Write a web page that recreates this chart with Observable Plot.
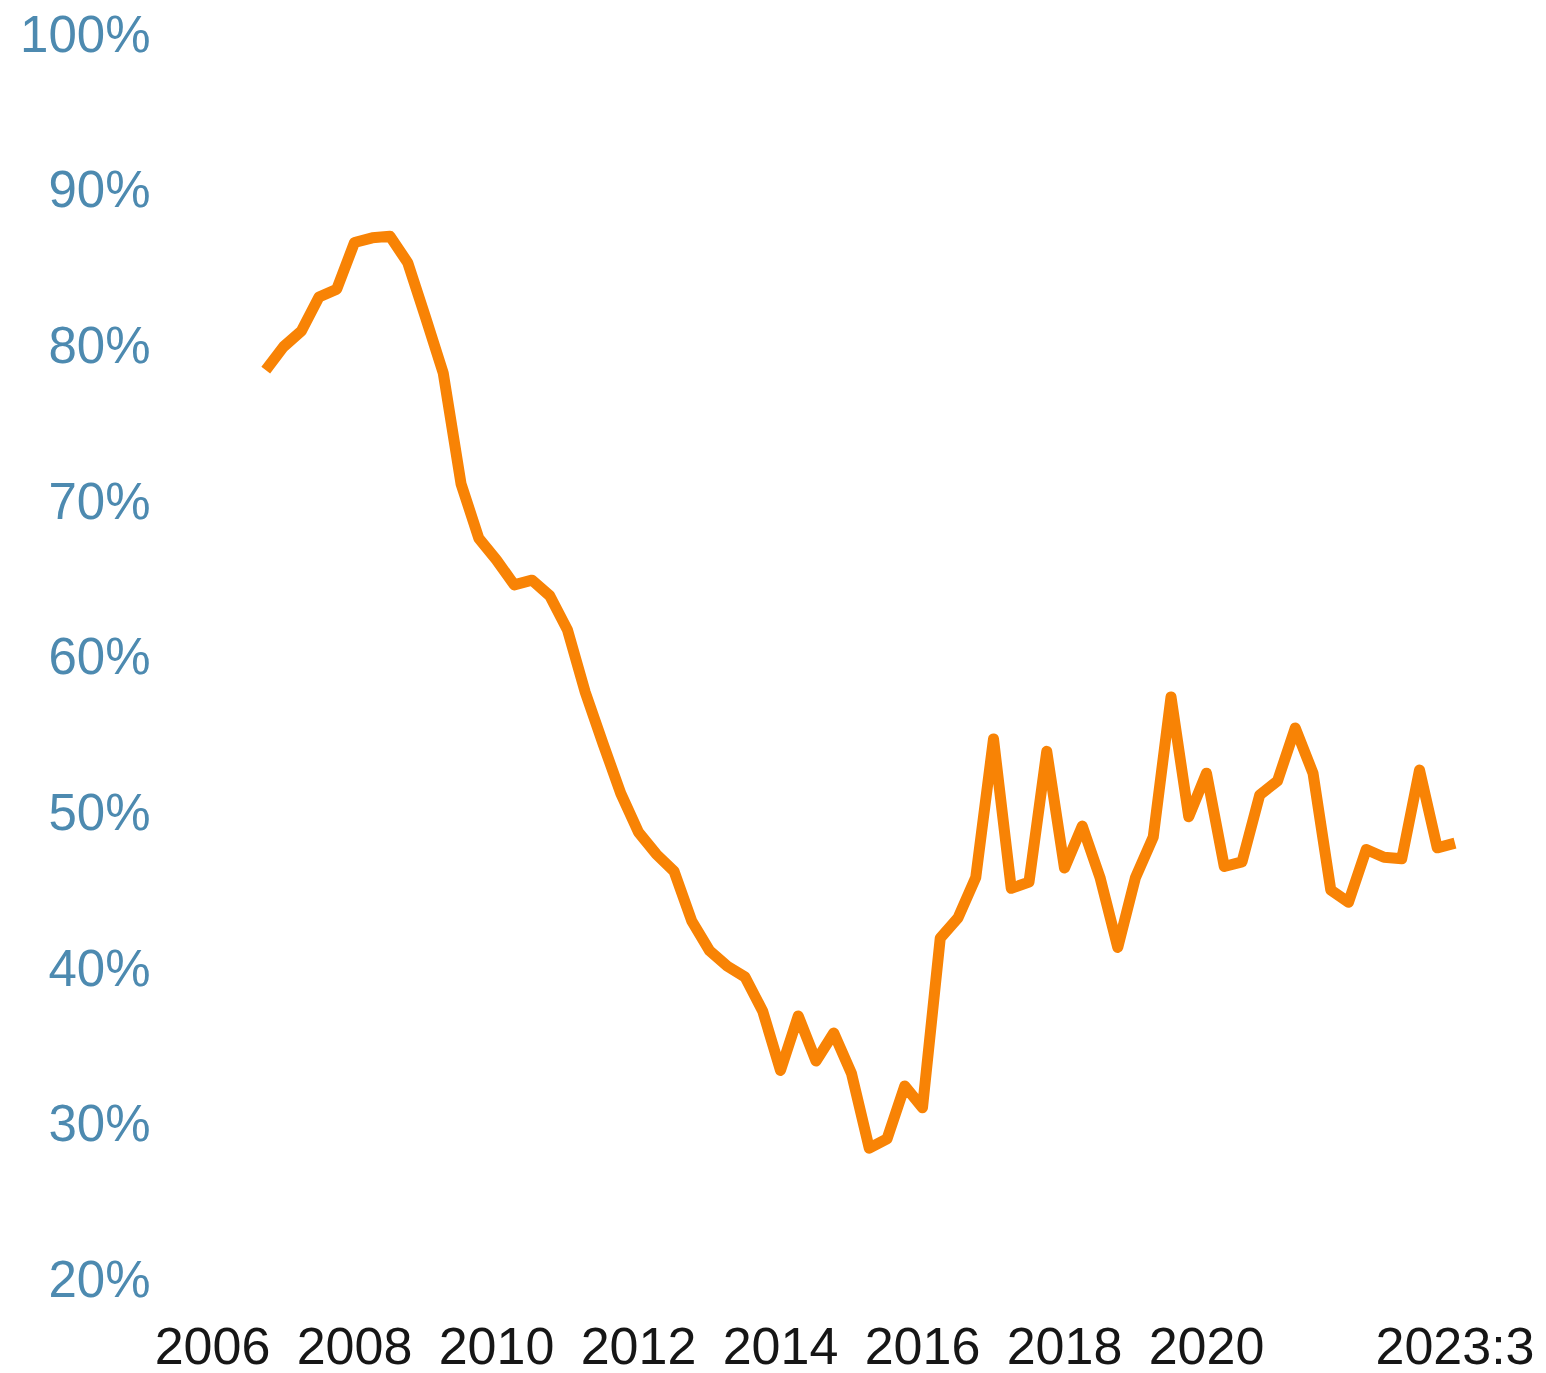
<!DOCTYPE html>
<html>
<head>
<meta charset="utf-8">
<script src="https://cdn.jsdelivr.net/npm/d3@7"></script>
<script src="https://cdn.jsdelivr.net/npm/@observablehq/plot@0.6"></script>
<style>
  html, body { margin: 0; padding: 0; background: #ffffff; }
  #chart { width: 1546px; height: 1373px; }
</style>
</head>
<body>
<div id="chart"></div>
<script>
// Quarterly periods (year:quarter)
const periods = [
  "2006:4",
  "2007:1","2007:2","2007:3","2007:4",
  "2008:1","2008:2","2008:3","2008:4",
  "2009:1","2009:2","2009:3","2009:4",
  "2010:1","2010:2","2010:3","2010:4",
  "2011:1","2011:2","2011:3","2011:4",
  "2012:1","2012:2","2012:3","2012:4",
  "2013:1","2013:2","2013:3","2013:4",
  "2014:1","2014:2","2014:3","2014:4",
  "2015:1","2015:2","2015:3","2015:4",
  "2016:1","2016:2","2016:3","2016:4",
  "2017:1","2017:2","2017:3","2017:4",
  "2018:1","2018:2","2018:3","2018:4",
  "2019:1","2019:2","2019:3","2019:4",
  "2020:1","2020:2","2020:3","2020:4",
  "2021:1","2021:2","2021:3","2021:4",
  "2022:1","2022:2","2022:3","2022:4",
  "2023:1","2023:2","2023:3"
];

// Series values (%)
const values = [
  78.5,
  80.0, 81.0, 83.2, 83.7,
  86.7, 87.0, 87.1, 85.4,
  81.9, 78.3, 71.2, 67.7,
  66.3, 64.7, 65.0, 64.0,
  61.8, 57.8, 54.5, 51.3,
  48.8, 47.4, 46.3, 43.1,
  41.2, 40.2, 39.5, 37.3,
  33.5, 37.0, 34.1, 35.9,
  33.3, 28.5, 29.1, 32.5,
  31.1, 42.0, 43.3, 45.9,
  54.8, 45.2, 45.6, 54.0,
  46.5, 49.2, 45.9, 41.4,
  45.9, 48.5, 57.5, 49.8,
  52.6, 46.6, 46.9, 51.2,
  52.1, 55.5, 52.6, 45.1,
  44.3, 47.7, 47.2, 47.1,
  52.8, 47.8, 48.1
];

// Tick values and labels
const xTickValues = [2006, 2008, 2010, 2012, 2014, 2016, 2018, 2020, 2023.5];
const xTickLabels = ["2006", "2008", "2010", "2012", "2014", "2016", "2018", "2020", "2023:3"];
const yTickValues = [20, 30, 40, 50, 60, 70, 80, 90, 100];
const yTickLabels = ["20%", "30%", "40%", "50%", "60%", "70%", "80%", "90%", "100%"];

// Build table
const toDecimal = (p) => {
  const [y, q] = p.split(":").map(Number);
  return y + (q - 1) / 4;
};
const data = periods.map((p, i) => ({ t: toDecimal(p), v: values[i] }));
const xLabel = new Map(xTickValues.map((d, i) => [d, xTickLabels[i]]));
const yLabel = new Map(yTickValues.map((d, i) => [d, yTickLabels[i]]));

const chart = Plot.plot({
  width: 1546,
  height: 1373,
  marginLeft: 212,
  marginRight: 91.5,
  marginTop: 35,
  marginBottom: 93,
  style: { fontFamily: "'Liberation Sans', Arial, Helvetica, sans-serif", background: "#ffffff", overflow: "visible" },
  x: { domain: [2006, 2023.5] },
  y: { domain: [20, 100] },
  marks: [
    Plot.axisY({
      ticks: yTickValues,
      tickFormat: d => yLabel.get(d),
      tickSize: 0,
      tickPadding: 62,
      fontSize: 51,
      color: "#4d8ab0",
      label: null
    }),
    Plot.axisX({
      ticks: xTickValues,
      tickFormat: d => xLabel.get(d),
      tickSize: 0,
      tickPadding: 47,
      fontSize: 52,
      color: "#161616",
      label: null
    }),
    Plot.line(data, {
      x: "t",
      y: "v",
      stroke: "#f88305",
      strokeWidth: 11,
      strokeLinejoin: "round",
      strokeLinecap: "butt"
    })
  ]
});
document.getElementById("chart").appendChild(chart);
</script>
</body>
</html>
